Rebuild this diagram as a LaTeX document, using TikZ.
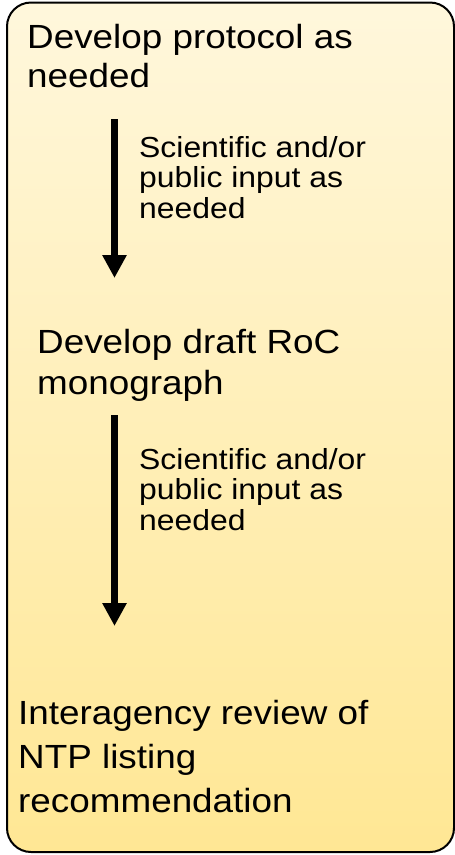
\documentclass[tikz,border=0pt]{standalone}
\usepackage{fontspec}
\setmainfont{Liberation Sans}[FakeStretch=1.1]
\usetikzlibrary{arrows.meta,shadings}
\definecolor{boxtop}{RGB}{255,247,220}
\definecolor{boxbot}{RGB}{255,231,148}
\tikzset{
  panel/.style={draw=black, line width=2pt, rounded corners=24pt, top color=boxtop, bottom color=boxbot},
  bigtext/.style={anchor=north west, inner sep=0pt, align=left, font=\fontsize{33.5}{39}\selectfont},
  smalltext/.style={anchor=north west, inner sep=0pt, align=left, font=\fontsize{29}{30.5}\selectfont},
  flowarrow/.style={line width=7pt, -{Triangle[width=23pt,length=23pt]}}
}
\begin{document}
\begin{tikzpicture}[x=1pt,y=-1pt]
\useasboundingbox (0,0) rectangle (455,855);
\path[panel] (7,2.5) rectangle (454,852);
\node[bigtext] (t1) at (27,24) {Develop protocol as\\needed};
\node[smalltext] (s1) at (139,136) {Scientific and/or\\public input as\\needed};
\node[bigtext, font=\fontsize{33.5}{41}\selectfont] (t2) at (37,329) {Develop draft RoC\\monograph};
\node[smalltext] (s2) at (139,448) {Scientific and/or\\public input as\\needed};
\node[bigtext, font=\fontsize{33.5}{44}\selectfont] (t3) at (18,700) {Interagency review of\\NTP listing\\recommendation};
\coordinate (a1s) at (114.5,119);
\coordinate (a1e) at (114.5,278);
\coordinate (a2s) at (114.5,415);
\coordinate (a2e) at (114.5,626);
\draw[flowarrow] (a1s) -- (a1e);
\draw[flowarrow] (a2s) -- (a2e);
\end{tikzpicture}
\end{document}
